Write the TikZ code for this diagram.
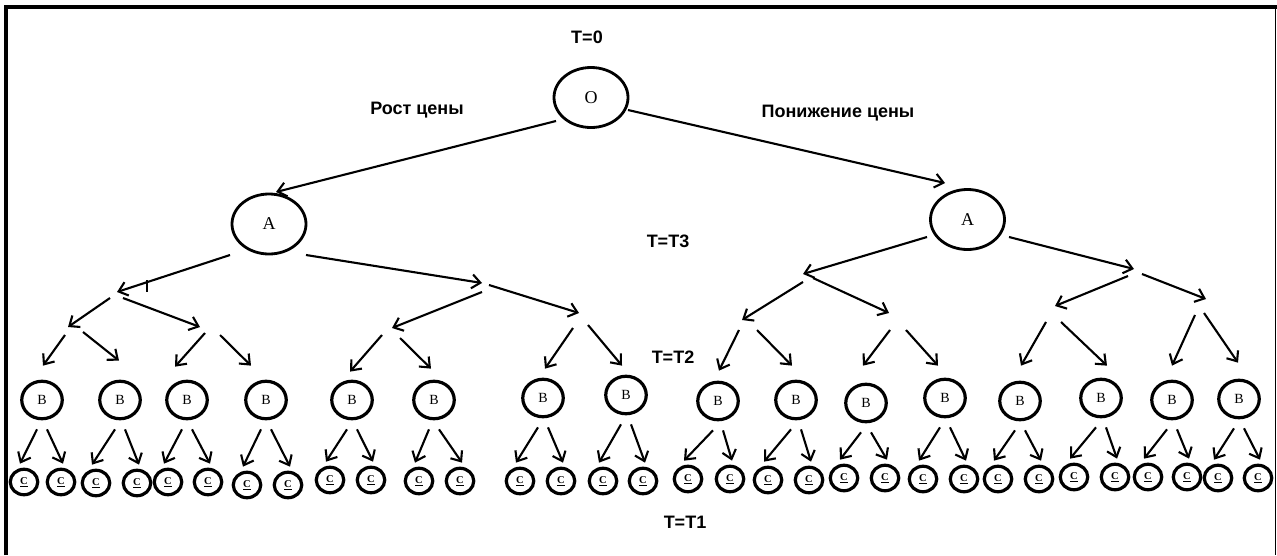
\documentclass[tikz,border=0pt]{standalone}
\usepackage{fontspec}
\setmainfont{Liberation Serif}
\newfontfamily\labfont{Liberation Sans}
\usetikzlibrary{arrows.meta,calc,shapes.geometric}
\tikzset{
  big/.style={ellipse, draw, line width=2.8pt, minimum width=74pt, minimum height=60pt, inner sep=0pt, font=\fontsize{18}{18}\selectfont},
  bnode/.style={ellipse, draw, line width=3.2pt, minimum width=40.5pt, minimum height=37.5pt, inner sep=0pt, font=\fontsize{14}{14}\selectfont},
  cnode/.style={ellipse, draw, line width=3.2pt, minimum width=27.5pt, minimum height=25.5pt, inner sep=0pt, font=\fontsize{10.5}{10.5}\selectfont\bfseries},
  arr/.style={-{Straight Barb[length=8.5pt,width=14pt]}, line width=2.1pt},
  lbl/.style={font=\labfont\bfseries\fontsize{18}{18}\selectfont, inner sep=0pt}
}
\newcommand\bcarrows[3]{%
  \draw[arr] ($(#1.south)+(-5,9)$) -- ($(#2.north)+(-4,-4)$);
  \draw[arr] ($(#1.south)+(5,9)$) -- ($(#3.north)+(2,-4)$);}
\begin{document}
\begin{tikzpicture}[x=1pt,y=-1pt]
\useasboundingbox (0,0) rectangle (1277,555);
\fill[white] (0,0) rectangle (1277,555);
% frame
\draw[line width=4.3pt] (6,555) -- (6,7) -- (1277,7);
\draw[line width=1.6pt] (1275.6,7) -- (1275.6,555);

% labels
\node[lbl] (t0) at (587,37) {T=0};
\node[lbl] (up) at (417,110) {Рост цены};
\node[lbl] (down) at (838,113) {Понижение цены};
\node[lbl] (t3) at (668,241) {T=T3};
\node[lbl] (t2) at (673,357) {T=T2};
\node[lbl] (t1) at (685,522) {T=T1};

% main nodes
\node[big] (o) at (591,97.5) {O};
\node[big] (aL) at (269,224) {A};
\node[big] (aR) at (967.5,219.5) {A};

% B nodes
\foreach \n/\x/\y in {1/42/400,2/120/400,3/187/400,4/266/400,5/352/400,6/434/400,7/543/398,8/626/395,
  9/718/401,10/796/400,11/866/403,12/945/398,13/1020/401,14/1101/398,15/1172/400,16/1239/399}
  \node[bnode] (b\n) at (\x,\y) {B};

% C nodes
\foreach \n/\x/\y in {1/24/482,2/61/482,3/96/483,4/137/483,5/168/482,6/208/482,7/247/485,8/288/485,
  9/330/480,10/371/480,11/419/481,12/460/481,13/520/481,14/561/481,15/603/481,16/643/481,
  17/688/479,18/730/479,19/768/480,20/809/480,21/844/478,22/885/478,23/923/479,24/964/479,
  25/998/479,26/1039/479,27/1074/477,28/1115/477,29/1148/477,30/1187/477,31/1218/478,32/1258/478}
  \node[cnode] (c\n) at (\x,\y) {\raisebox{1.5pt}{\underline{C}}};

% junction points
\coordinate (j1) at (117,292);
\coordinate (j2) at (482,283);
\coordinate (j3) at (803,274);
\coordinate (j4) at (1134,269);
\coordinate (j11) at (68,327);
\coordinate (j12) at (200,327);
\coordinate (j21) at (392,328);
\coordinate (j22) at (579,313);
\coordinate (j31) at (742,320);
\coordinate (j32) at (889,313);
\coordinate (j41) at (1055,306);
\coordinate (j42) at (1206,299);

% level 1
\draw[arr] ($(o)+(-35,23.5)$) -- ($(aL)+(7,-32)$);
\draw[arr] ($(o)+(37,12.5)$) -- ($(aR)+(-22.5,-36.5)$);
% level 2
\draw[arr] ($(aL)+(-39,31)$) -- (j1);
\draw[arr] ($(aL)+(37,31)$) -- (j2);
\draw[arr] ($(aR)+(-40.5,17.5)$) -- (j3);
\draw[arr] ($(aR)+(41.5,17.5)$) -- (j4);
% level 3
\draw[arr] ($(j1)+(-7,6)$) -- (j11);
\draw[arr] ($(j1)+(6,6)$) -- (j12);
\draw[arr] ($(j2)+(0,9)$) -- (j21);
\draw[arr] ($(j2)+(7,2)$) -- (j22);
\draw[arr] ($(j3)+(0,8)$) -- (j31);
\draw[arr] ($(j3)+(10,4)$) -- (j32);
\draw[arr] ($(j4)+(-6,7)$) -- (j41);
\draw[arr] ($(j4)+(8,5)$) -- (j42);
% level 4
\draw[arr] ($(j11)+(-3,8)$) -- ($(b1.north)+(1,-14)$);
\draw[arr] ($(j11)+(15,5)$) -- ($(b2.north)+(-1,-19)$);
\draw[arr] ($(j12)+(5,6)$) -- ($(b3.north)+(-12,-13)$);
\draw[arr] ($(j12)+(20,8)$) -- ($(b4.north)+(-15,-14)$);
\draw[arr] ($(j21)+(-10,7)$) -- ($(b5.north)+(-2,-8)$);
\draw[arr] ($(j21)+(8,10)$) -- ($(b6.north)+(-3,-11)$);
\draw[arr] ($(j22)+(-6,15)$) -- ($(b7.north)+(2,-9)$);
\draw[arr] ($(j22)+(9,12)$) -- ($(b8.north)+(-4,-9)$);
\draw[arr] ($(j31)+(-3,10)$) -- ($(b9.north)+(1,-10)$);
\draw[arr] ($(j31)+(15,10)$) -- ($(b10.north)+(-4,-14)$);
\draw[arr] ($(j32)+(1,17)$) -- ($(b11.north)+(-3,-17)$);
\draw[arr] ($(j32)+(17,17)$) -- ($(b12.north)+(-7,-12)$);
\draw[arr] ($(j41)+(-9,16)$) -- ($(b13.north)+(1,-15)$);
\draw[arr] ($(j41)+(6,16)$) -- ($(b14.north)+(6,-12)$);
\draw[arr] ($(j42)+(-11,16)$) -- ($(b15.north)+(0,-14)$);
\draw[arr] ($(j42)+(-2,14)$) -- ($(b16.north)+(-1,-16)$);
% level 5
\bcarrows{b1}{c1}{c2}
\bcarrows{b2}{c3}{c4}
\bcarrows{b3}{c5}{c6}
\bcarrows{b4}{c7}{c8}
\bcarrows{b5}{c9}{c10}
\bcarrows{b6}{c11}{c12}
\bcarrows{b7}{c13}{c14}
\bcarrows{b8}{c15}{c16}
\bcarrows{b9}{c17}{c18}
\bcarrows{b10}{c19}{c20}
\bcarrows{b11}{c21}{c22}
\bcarrows{b12}{c23}{c24}
\bcarrows{b13}{c25}{c26}
\bcarrows{b14}{c27}{c28}
\bcarrows{b15}{c29}{c30}
\bcarrows{b16}{c31}{c32}

% small tick mark
\draw[line width=1.5pt] (147,280) -- (147,292);
\end{tikzpicture}
\end{document}
